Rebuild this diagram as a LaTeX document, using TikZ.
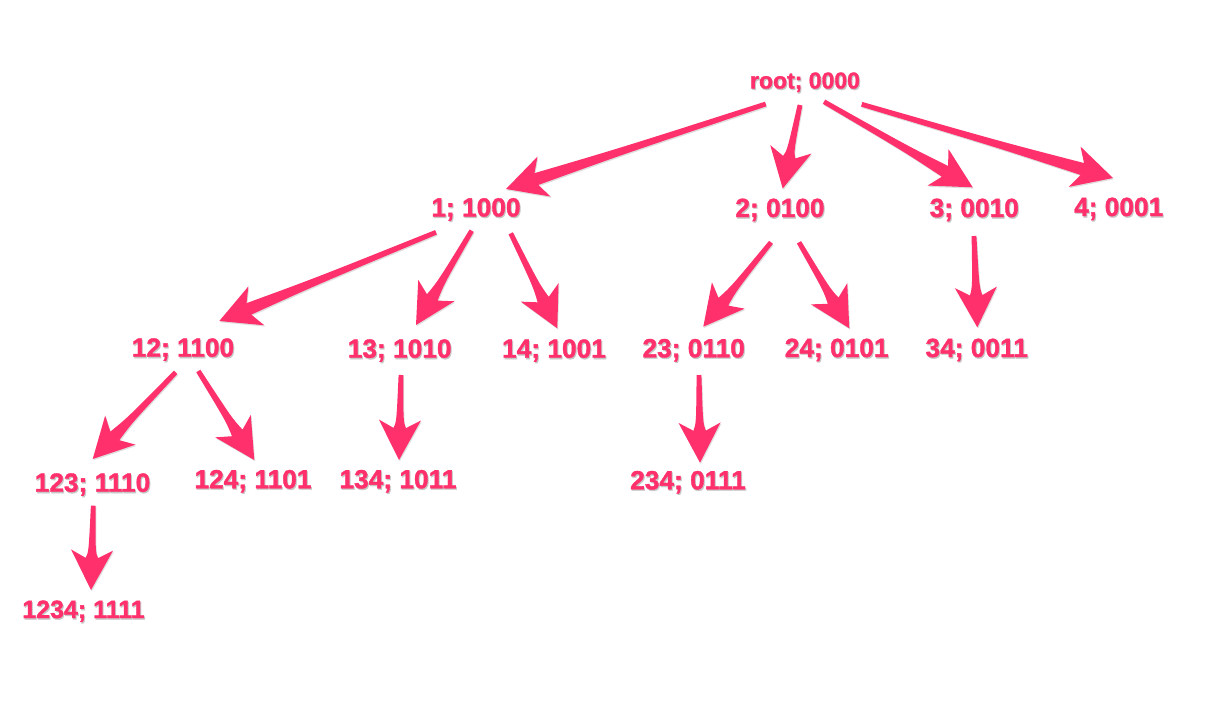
\documentclass[tikz,border=0pt]{standalone}
\usepackage{fontspec}
\setmainfont{Liberation Sans}
\newfontfamily\heavyfont{Liberation Sans Bold}[FakeBold=1.4]
\usetikzlibrary{calc}
\definecolor{hotpink}{RGB}{255,48,108}
\newcommand\lbl[1]{\makebox[0pt][l]{\hspace{1pt}\raisebox{-1.4pt}{\textcolor{black!22}{#1}}}#1}
\newcommand\tarrpath{%
  ($(tA)!2.4pt!90:(tB)$)
  .. controls ($(tA)!0.55!(tB)!3.4pt!90:(tB)$) .. ($(tB)!32pt!(tA)!6.2pt!-90:(tA)$)
  -- ($(tB)!40pt!(tA)!21pt!-90:(tA)$) -- (tB)
  -- ($(tB)!40pt!(tA)!21pt!90:(tA)$) -- ($(tB)!32pt!(tA)!6.2pt!90:(tA)$)
  .. controls ($(tA)!0.55!(tB)!3.4pt!-90:(tB)$) .. ($(tA)!2.4pt!-90:(tB)$) -- cycle}
\newcommand\tarr[4]{%
  \coordinate (tA) at ($(#1.base)+(#2)$);
  \coordinate (tB) at ($(#3.base)+(#4)$);
  \fill[arrowshadow] \tarrpath;
  \fill[arrowfill] \tarrpath;
}
\tikzset{
  lab/.style={anchor=base, inner sep=0pt, text=hotpink,
    font=\fontsize{26.3}{30}\heavyfont},
  small/.style={font=\fontsize{23}{27}\heavyfont},
  mid/.style={font=\fontsize{25}{29}\heavyfont},
  arrowfill/.style={fill=hotpink},
  arrowshadow/.style={fill=black!13, transform canvas={shift={(0.8pt,-1.3pt)}}}
}
\begin{document}
\begin{tikzpicture}[x=1pt,y=-1pt]
\useasboundingbox[fill=white] (0,0) rectangle (1210,707);
% level 0
\node[lab,small] (root) at (805,88.5) {\lbl{root; 0000}};
% level 1
\node[lab] (n1) at (476,216.5) {\lbl{1; 1000}};
\node[lab] (n2) at (780,217) {\lbl{2; 0100}};
\node[lab] (n3) at (974.3,217) {\lbl{3; 0010}};
\node[lab] (n4) at (1118.7,216) {\lbl{4; 0001}};
% level 2
\node[lab] (n12) at (183,356.7) {\lbl{12; 1100}};
\node[lab] (n13) at (399.7,357.7) {\lbl{13; 1010}};
\node[lab] (n14) at (554,357.7) {\lbl{14; 1001}};
\node[lab] (n23) at (693.7,357.3) {\lbl{23; 0110}};
\node[lab] (n24) at (836.7,357) {\lbl{24; 0101}};
\node[lab] (n34) at (976.7,357) {\lbl{34; 0011}};
% level 3
\node[lab] (n123) at (92.5,491.7) {\lbl{123; 1110}};
\node[lab] (n124) at (253,488.3) {\lbl{124; 1101}};
\node[lab] (n134) at (398,488.3) {\lbl{134; 1011}};
\node[lab] (n234) at (688,489.3) {\lbl{234; 0111}};
% level 4
\node[lab,mid] (n1234) at (83.5,618) {\lbl{1234; 1111}};
% arrows
\tarr{root}{-39.3,15.5}{n1}{30,-27.5}
\tarr{root}{-5,16.5}{n2}{2.7,-28.5}
\tarr{root}{19,13.2}{n3}{-1.6,-29.7}
\tarr{root}{56.7,15.8}{n4}{-5.7,-38}
\tarr{n1}{-40,15.8}{n12}{36.3,-35.7}
\tarr{n1}{-4.3,14.2}{n13}{16.3,-32.7}
\tarr{n1}{34.7,16.8}{n14}{3.3,-29.4}
\tarr{n2}{-9,25.3}{n23}{9.6,-30.6}
\tarr{n2}{19,25.3}{n24}{12.6,-28.7}
\tarr{n3}{-0.3,19}{n34}{0.6,-29.7}
\tarr{n12}{-7.3,15.6}{n123}{0.2,-32.7}
\tarr{n12}{15.3,14.3}{n124}{1.3,-28.3}
\tarr{n13}{1.3,17.3}{n134}{1,-28.3}
\tarr{n23}{5.3,17.7}{n234}{12,-26.6}
\tarr{n123}{0.8,14}{n1234}{7.5,-28}
\end{tikzpicture}
\end{document}
